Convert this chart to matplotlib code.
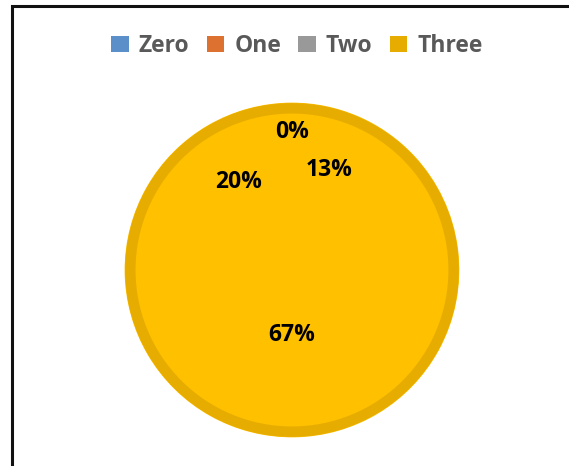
import matplotlib.pyplot as plt
from matplotlib.patches import Patch, Circle, Rectangle

# Data -------
categories = ["Zero", "One", "Two", "Three"]
shares = [0, 13, 20, 67]
legend_colors = ["#5B8FC9", "#DC7130", "#999999", "#E6AC00"]

# label placement inside the disc (axes units, radius = 1)
label_xy = [(0.0, 0.83), (0.22, 0.60), (-0.32, 0.53), (0.0, -0.39)]

fill_color = "#FFC000"
ring_color = "#E6AC00"

plt.rcParams["font.family"] = ["Open Sans", "DejaVu Sans"]

fig = plt.figure(figsize=(5.69, 4.66), dpi=100)

# chart frame (only left and top edges show)
fig.patches.append(Rectangle((12 / 569, -0.05), 1.2, 1.05 - 6 / 466,
                             transform=fig.transFigure, fill=False,
                             edgecolor="#111111", linewidth=2.2))

ax = fig.add_axes([0.2144, 0.0558, 0.5975, 0.7296])
ax.pie(shares, colors=[fill_color] * len(shares), startangle=90,
       counterclock=False, radius=1,
       wedgeprops=dict(linewidth=1.0, edgecolor=fill_color))
ax.add_patch(Circle((0, 0), 0.97, fill=False, edgecolor=ring_color, linewidth=7.5))
ax.set_xlim(-1.02, 1.02)
ax.set_ylim(-1.02, 1.02)
ax.set_aspect("equal")
ax.axis("off")

for (x, y), v in zip(label_xy, shares):
    ax.text(x, y, f"{v:.0f}%", ha="center", va="center",
            fontsize=16.5, fontweight="bold", color="black")

handles = [Patch(facecolor=c, edgecolor="none") for c in legend_colors]
leg = fig.legend(handles, categories, loc="center", bbox_to_anchor=(297 / 569, 1 - 46 / 466),
                 ncol=4, frameon=False, handlelength=0.75, handleheight=0.75,
                 handletextpad=0.45, columnspacing=0.75,
                 prop=dict(size=16.5, weight="bold"))
for t in leg.get_texts():
    t.set_color("#595959")

fig.savefig("out.png", dpi=100, facecolor="white")
